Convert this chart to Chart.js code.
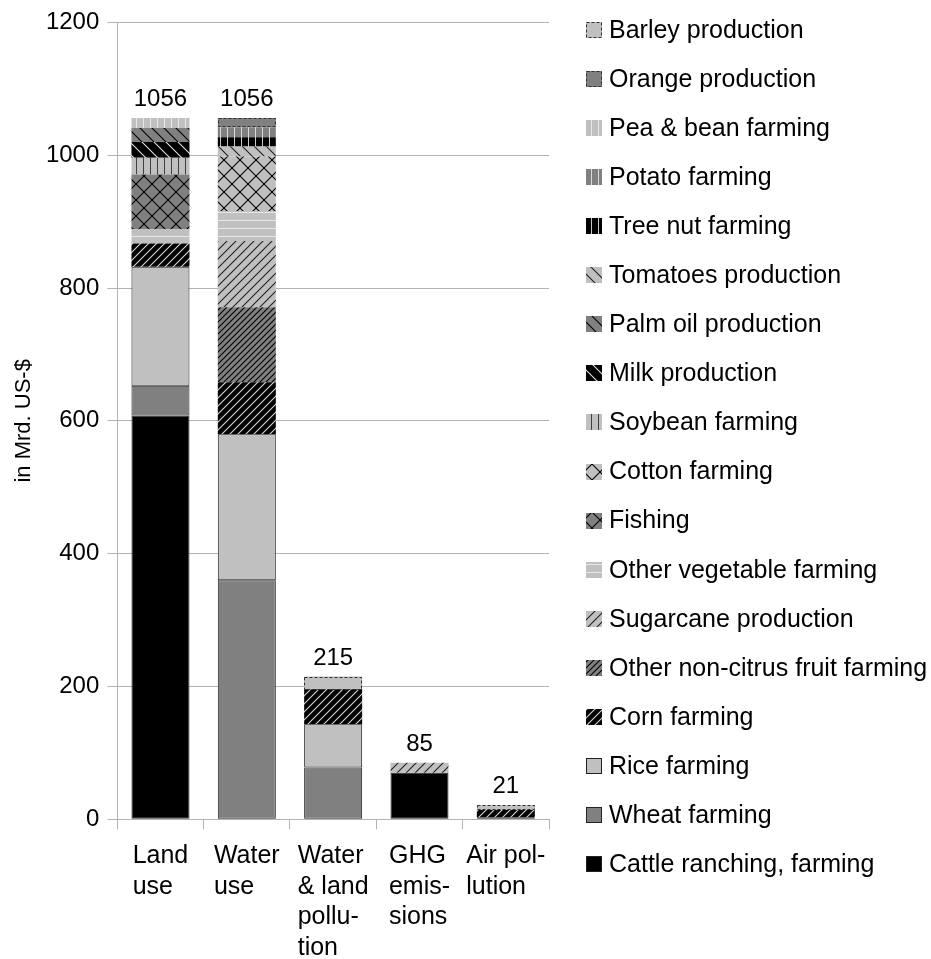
<!DOCTYPE html>
<html>
<head>
<meta charset="utf-8">
<script src="https://cdn.jsdelivr.net/npm/chart.js@4/dist/chart.umd.min.js"></script>
<style>
  html, body { margin: 0; padding: 0; background: #ffffff; }
  #wrap { width: 931px; height: 959px; }
</style>
</head>
<body>
<div id="wrap"><canvas id="chart" width="931" height="959"></canvas></div>
<script>
// Categories (x axis) and their wrapped label lines
const categories = ['Land use', 'Water use', 'Water & land pollution', 'GHG emissions', 'Air pollution'];
const categoryLines = [
  ['Land', 'use'],
  ['Water', 'use'],
  ['Water', '& land', 'pollu-', 'tion'],
  ['GHG', 'emis-', 'sions'],
  ['Air pol-', 'lution']
];

// Costs per sector, in Mrd. US-$ (stack order: bottom to top)
const cattle        = [608,   0,  0, 70, 0];
const wheat         = [ 45, 360, 78,  0, 0];
const rice          = [179, 220, 65,  0, 3];
const corn          = [ 35,  78, 53,  0, 11];
const nonCitrus     = [  0, 113,  0,  0, 0];
const sugarcane     = [  0, 100,  0, 15, 0];
const otherVeg      = [ 22,  45,  0,  0, 0];
const fishing       = [ 82,   0,  0,  0, 0];
const cotton        = [  0,  82,  0,  0, 0];
const soybean       = [ 25,   0,  0,  0, 0];
const milk          = [ 24,   0,  0,  0, 0];
const palmOil       = [ 21,   0,  0,  0, 0];
const tomatoes      = [  0,  15,  0,  0, 0];
const treeNut       = [  0,  14,  0,  0, 0];
const potato        = [  0,  15,  0,  0, 0];
const peaBean       = [ 15,   0,  0,  0, 0];
const orange        = [  0,  14,  0,  0, 0];
const barley        = [  0,   0, 19,  0, 7];

const yTicks = [0, 200, 400, 600, 800, 1000, 1200];

const FONT = '"Liberation Sans", Arial, sans-serif';
const BLACK = '#000000', DARK = '#808080', LIGHT = '#c0c0c0';

// Fill patterns
function tile(size, bg, paint) {
  const c = document.createElement('canvas');
  c.width = size; c.height = size;
  const g = c.getContext('2d');
  g.fillStyle = bg; g.fillRect(0, 0, size, size);
  paint(g, size);
  return g.createPattern(c, 'repeat');
}
function diag(bg, fg, step, dir) {
  return tile(step, bg, (g, s) => {
    g.strokeStyle = fg; g.lineWidth = 1.1;
    g.beginPath();
    if (dir === '/') {
      g.moveTo(-1, s + 1); g.lineTo(s + 1, -1);
      g.moveTo(-1, 1); g.lineTo(1, -1);
      g.moveTo(s - 1, s + 1); g.lineTo(s + 1, s - 1);
    } else {
      g.moveTo(-1, -1); g.lineTo(s + 1, s + 1);
      g.moveTo(s - 1, -1); g.lineTo(s + 1, 1);
      g.moveTo(-1, s - 1); g.lineTo(1, s + 1);
    }
    g.stroke();
  });
}
function cross(bg, fg, step) {
  return tile(step, bg, (g, s) => {
    g.strokeStyle = fg; g.lineWidth = 1.1;
    g.beginPath();
    g.moveTo(-1, s + 1); g.lineTo(s + 1, -1);
    g.moveTo(-1, -1); g.lineTo(s + 1, s + 1);
    g.stroke();
  });
}
function vert(bg, fg, step) {
  return tile(step, bg, (g, s) => {
    g.fillStyle = fg; g.fillRect(Math.floor(s / 2), 0, 1, s);
  });
}
function horiz(bg, fg, step) {
  return tile(step, bg, (g, s) => {
    g.fillStyle = fg; g.fillRect(0, Math.floor(s / 2), s, 1);
  });
}

const series = [
  { label: 'Cattle ranching, farming', data: cattle, fill: BLACK, edge: '#222' },
  { label: 'Wheat farming', data: wheat, fill: DARK, edge: '#222' },
  { label: 'Rice farming', data: rice, fill: LIGHT, edge: '#222' },
  { label: 'Corn farming', data: corn, fill: diag(BLACK, '#d8d8d8', 8, '/') },
  { label: 'Other non-citrus fruit farming', data: nonCitrus, fill: diag(DARK, BLACK, 6, '/') },
  { label: 'Sugarcane production', data: sugarcane, fill: diag(LIGHT, '#202020', 9, '/') },
  { label: 'Other vegetable farming', data: otherVeg, fill: horiz(LIGHT, '#e8e8e8', 8) },
  { label: 'Fishing', data: fishing, fill: cross(DARK, BLACK, 16) },
  { label: 'Cotton farming', data: cotton, fill: cross(LIGHT, BLACK, 16) },
  { label: 'Soybean farming', data: soybean, fill: vert(LIGHT, '#404040', 7) },
  { label: 'Milk production', data: milk, fill: diag(BLACK, '#e0e0e0', 12, '\\') },
  { label: 'Palm oil production', data: palmOil, fill: diag(DARK, BLACK, 12, '\\') },
  { label: 'Tomatoes production', data: tomatoes, fill: diag(LIGHT, '#202020', 12, '\\') },
  { label: 'Tree nut farming', data: treeNut, fill: vert(BLACK, '#c8c8c8', 7) },
  { label: 'Potato farming', data: potato, fill: vert(DARK, '#d8d8d8', 7) },
  { label: 'Pea & bean farming', data: peaBean, fill: vert(LIGHT, '#e8e8e8', 7) },
  { label: 'Orange production', data: orange, fill: DARK, dashed: true },
  { label: 'Barley production', data: barley, fill: LIGHT, dashed: true }
];

const datasets = series.map(s => ({
  label: s.label,
  data: s.data,
  backgroundColor: s.fill,
  borderColor: s.edge || 'rgba(0,0,0,0)',
  borderWidth: s.edge ? 1 : 0,
  borderSkipped: false,
  dashedEdge: !!s.dashed,
  barPercentage: 0.672,
  categoryPercentage: 1.0
}));

// Dashed outline for the dashed-edged series
const dashedEdges = {
  id: 'dashedEdges',
  afterDatasetsDraw(chart) {
    const ctx = chart.ctx;
    chart.data.datasets.forEach((ds, di) => {
      if (!ds.dashedEdge) return;
      const meta = chart.getDatasetMeta(di);
      meta.data.forEach((el, i) => {
        if (!ds.data[i]) return;
        const { x, y, base, width } = el.getProps(['x', 'y', 'base', 'width'], true);
        ctx.save();
        ctx.strokeStyle = '#303030';
        ctx.lineWidth = 1;
        ctx.setLineDash([3, 2]);
        ctx.strokeRect(Math.round(x - width / 2) + 0.5, Math.round(y) + 0.5,
                       Math.round(width) - 1, Math.round(base - y) - 1);
        ctx.restore();
      });
    });
  }
};

// Stack totals above each column
const totalsLabels = {
  id: 'totalsLabels',
  afterDatasetsDraw(chart) {
    const ctx = chart.ctx;
    const xs = chart.scales.x, ys = chart.scales.y;
    ctx.save();
    ctx.font = '24px ' + FONT;
    ctx.fillStyle = '#000';
    ctx.textAlign = 'center';
    ctx.textBaseline = 'alphabetic';
    categories.forEach((c, i) => {
      const total = chart.data.datasets.reduce((a, ds) => a + (ds.data[i] || 0), 0);
      ctx.fillText(String(total), xs.getPixelForValue(i), ys.getPixelForValue(total) - 12);
    });
    ctx.restore();
  }
};

// Wrapped category labels: lines left-aligned, block centred under the column
const categoryLabels = {
  id: 'categoryLabels',
  afterDraw(chart) {
    const ctx = chart.ctx;
    const xs = chart.scales.x;
    ctx.save();
    ctx.font = '25px ' + FONT;
    ctx.fillStyle = '#000';
    ctx.textAlign = 'left';
    ctx.textBaseline = 'alphabetic';
    categoryLines.forEach((lines, i) => {
      const w = Math.max(...lines.map(l => ctx.measureText(l).width));
      const left = xs.getPixelForValue(i) - w / 2;
      lines.forEach((l, j) => ctx.fillText(l, left, chart.chartArea.bottom + 44 + j * 30.5));
    });
    ctx.restore();
  }
};

// Legend on the right, top entry = top of the stack
const sideLegend = {
  id: 'sideLegend',
  afterDraw(chart) {
    const ctx = chart.ctx;
    const boxX = 586, box = 16, textX = 609, top = 30, step = 49.06;
    ctx.save();
    ctx.font = '25px ' + FONT;
    ctx.textAlign = 'left';
    ctx.textBaseline = 'middle';
    const items = chart.data.datasets.map((ds, i) => ({ ds, i })).reverse();
    items.forEach(({ ds }, k) => {
      const cy = top + k * step;
      const by = Math.round(cy - box / 2);
      ctx.fillStyle = ds.backgroundColor;
      ctx.fillRect(boxX, by, box, box);
      if (ds.borderWidth) {
        ctx.strokeStyle = ds.borderColor;
        ctx.lineWidth = 1;
        ctx.strokeRect(boxX + 0.5, by + 0.5, box - 1, box - 1);
      }
      if (ds.dashedEdge) {
        ctx.strokeStyle = '#303030';
        ctx.lineWidth = 1;
        ctx.setLineDash([3, 2]);
        ctx.strokeRect(boxX + 0.5, by + 0.5, box - 1, box - 1);
        ctx.setLineDash([]);
      }
      ctx.fillStyle = '#000';
      ctx.fillText(ds.label, textX, cy + 1);
    });
    ctx.restore();
  }
};

new Chart(document.getElementById('chart'), {
  type: 'bar',
  data: { labels: categories, datasets },
  plugins: [dashedEdges, totalsLabels, categoryLabels, sideLegend],
  options: {
    responsive: false,
    animation: false,
    devicePixelRatio: 1,
    layout: { padding: { left: 0, top: 17, right: 382, bottom: 0 } },
    plugins: { legend: { display: false }, tooltip: { enabled: false } },
    scales: {
      x: {
        stacked: true,
        offset: true,
        grid: { offset: true, drawOnChartArea: false, drawTicks: true, tickLength: 10, color: '#b3b3b3' },
        border: { color: '#b3b3b3' },
        ticks: { display: false },
        afterFit(scale) { scale.height = 139.7; scale.paddingLeft = 0; scale.paddingRight = 0; }
      },
      y: {
        stacked: true,
        min: 0,
        max: 1200,
        afterBuildTicks(scale) { scale.ticks = yTicks.map(v => ({ value: v })); },
        grid: { color: '#b3b3b3', tickLength: 10 },
        border: { color: '#b3b3b3' },
        ticks: {
          color: '#000',
          font: { family: FONT, size: 24 },
          padding: 8,
          callback: v => String(v)
        },
        title: {
          display: true,
          text: 'in Mrd. US-$',
          color: '#000',
          font: { family: FONT, size: 22 },
          padding: { top: 11, bottom: 0 }
        },
        afterFit(scale) { scale.width = 117.3; }
      }
    }
  }
});
</script>
</body>
</html>
